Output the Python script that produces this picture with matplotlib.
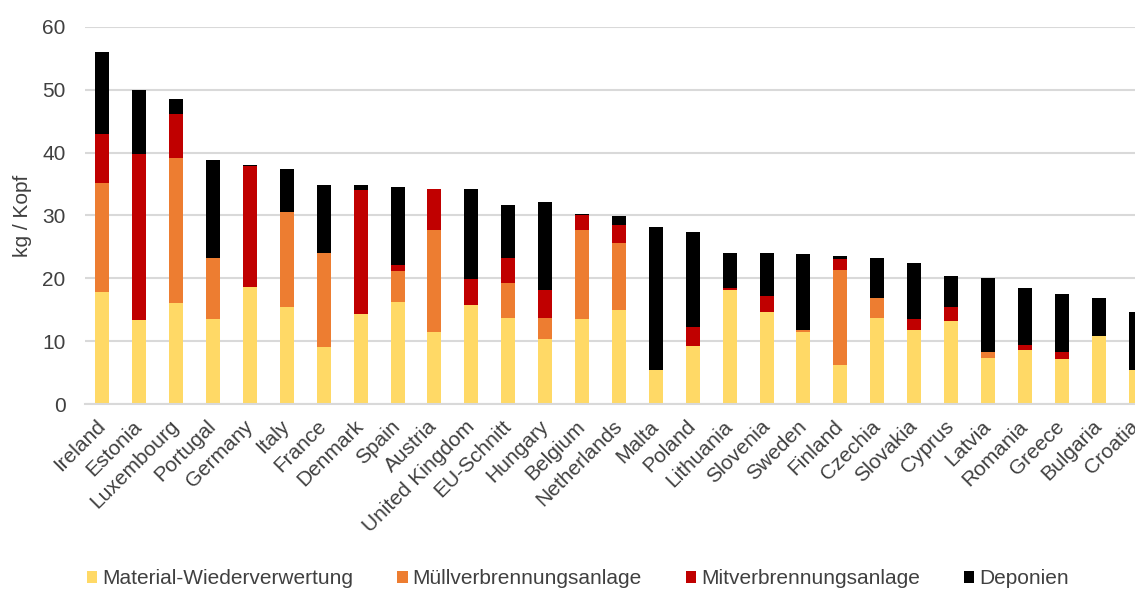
import numpy as np
import matplotlib
matplotlib.use("Agg")
import matplotlib.pyplot as plt
from matplotlib.patches import Patch

plt.rcParams['font.family'] = ['Liberation Sans', 'DejaVu Sans']

# Länder (absteigend nach Gesamtmenge)
countries = ['Ireland', 'Estonia', 'Luxembourg', 'Portugal', 'Germany', 'Italy', 'France',
             'Denmark', 'Spain', 'Austria', 'United Kingdom', 'EU-Schnitt', 'Hungary',
             'Belgium', 'Netherlands', 'Malta', 'Poland', 'Lithuania', 'Slovenia', 'Sweden',
             'Finland', 'Czechia', 'Slovakia', 'Cyprus', 'Latvia', 'Romania', 'Greece',
             'Bulgaria', 'Croatia']

# kg / Kopf je Verwertungsweg
recycling = [17.8, 13.3, 16.1, 13.5, 18.6, 15.5, 9.1, 14.3, 16.3, 11.4, 15.8, 13.7, 10.3,
             13.5, 14.9, 5.4, 9.3, 18.1, 14.6, 11.5, 6.2, 13.7, 11.7, 13.2, 7.4, 8.6, 7.1,
             10.8, 5.4]
incineration = [17.3, 0, 23.1, 9.8, 0, 15.0, 15.0, 0, 4.9, 16.3, 0, 5.5, 3.4,
                14.2, 10.7, 0, 0, 0, 0, 0.2, 15.1, 3.2, 0, 0, 0.8, 0, 0,
                0, 0]
co_incineration = [7.8, 26.5, 6.9, 0, 19.2, 0, 0, 19.7, 0.9, 6.5, 4.1, 4.1, 4.4,
                   2.3, 2.9, 0, 3.0, 0.3, 2.6, 0, 1.7, 0, 1.8, 2.3, 0, 0.8, 1.1,
                   0, 0]
landfill = [13.1, 10.1, 2.4, 15.6, 0.3, 6.9, 10.8, 0.9, 12.4, 0, 14.3, 8.3, 14.1,
            0.3, 1.4, 22.8, 15.0, 5.7, 6.9, 12.1, 0.6, 6.4, 8.9, 4.9, 11.9, 9.0, 9.3,
            6.1, 9.2]

series = [
    ('Material-Wiederverwertung', recycling, '#FFD966'),
    ('Müllverbrennungsanlage', incineration, '#ED7D31'),
    ('Mitverbrennungsanlage', co_incineration, '#C00000'),
    ('Deponien', landfill, '#000000'),
]

text_color = '#404040'
grid_color = '#D9D9D9'

fig = plt.figure(figsize=(11.35, 5.89), dpi=100)
# Achse reicht rechts über den Bildrand hinaus (Croatia wird abgeschnitten)
ax = fig.add_axes([85 / 1135, 185 / 589, 1069 / 1135, 377 / 589])

x = np.arange(len(countries))
bottom = np.zeros(len(countries))
for name, vals, color in series:
    vals = np.array(vals)
    ax.bar(x, vals, width=0.38, bottom=bottom, color=color, label=name, zorder=2)
    bottom += vals

ax.set_xlim(-0.47, 28.5)
ax.set_ylim(0, 60)
ax.set_yticks(range(0, 61, 10))
ax.yaxis.grid(True, color=grid_color, linewidth=1.5)
ax.set_axisbelow(True)
for s in ['top', 'right', 'left']:
    ax.spines[s].set_visible(False)
ax.spines['bottom'].set_color(grid_color)
ax.spines['bottom'].set_linewidth(1.5)

ax.set_xticks(x)
ax.set_xticklabels(countries, rotation=45, ha='right', va='center', rotation_mode='anchor')
ax.tick_params(axis='x', length=0, pad=14, labelsize=15, labelcolor=text_color)
ax.tick_params(axis='y', length=0, pad=14, labelsize=15, labelcolor=text_color)

fig.text(23 / 1135, 1 - 215.5 / 589, 'kg / Kopf', rotation=90, ha='center', va='center',
         fontsize=15, color=text_color)

# Legende unten
handles = [Patch(facecolor=c, label=n) for n, _, c in series]
leg = fig.legend(handles=handles, loc='center', bbox_to_anchor=(578 / 1135, 10 / 589),
                 ncol=4, frameon=False, fontsize=15, handlelength=0.5, handleheight=0.5,
                 handletextpad=0.25, columnspacing=2.1, borderpad=0, borderaxespad=0)
for t in leg.get_texts():
    t.set_color(text_color)

fig.savefig('out.png', dpi=100)
